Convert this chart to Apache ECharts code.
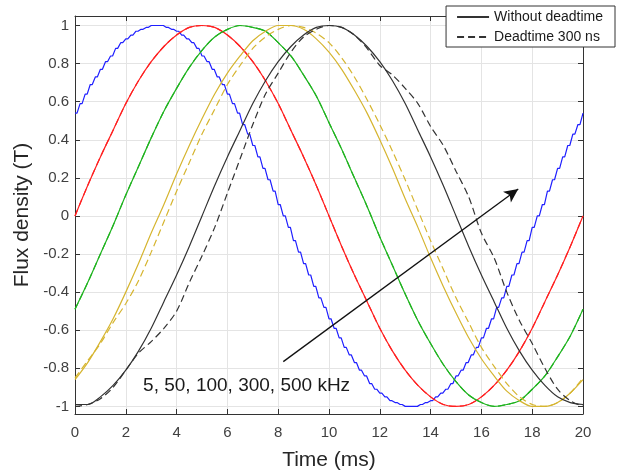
<!DOCTYPE html>
<html>
<head>
<meta charset="utf-8">
<script src="https://cdn.jsdelivr.net/npm/echarts@6/dist/echarts.min.js"></script>
<style>
html,body{margin:0;padding:0;background:#fff;}
#chart{width:621px;height:475px;}
</style>
</head>
<body>
<div id="chart"></div>
<script>
// ---- data ----
const time = [0,0.5,1,1.5,2,2.5,3,3.5,4,4.5,5,5.5,6,6.5,7,7.5,8,8.5,9,9.5,10,
  10.5,11,11.5,12,12.5,13,13.5,14,14.5,15,15.5,16,16.5,17,17.5,18,18.5,19,19.5,20];

// switching instants of the 5 kHz staircase (one level per 0.2 ms)
const timeFine = [0,0.2,0.4,0.6,0.8,1,1.2,1.4,1.6,1.8,2,2.2,2.4,2.6,2.8,3,3.2,3.4,3.6,3.8,
  4,4.2,4.4,4.6,4.8,5,5.2,5.4,5.6,5.8,6,6.2,6.4,6.6,6.8,7,7.2,7.4,7.6,7.8,
  8,8.2,8.4,8.6,8.8,9,9.2,9.4,9.6,9.8,10,10.2,10.4,10.6,10.8,11,11.2,11.4,11.6,11.8,
  12,12.2,12.4,12.6,12.8,13,13.2,13.4,13.6,13.8,14,14.2,14.4,14.6,14.8,15,15.2,15.4,15.6,15.8,
  16,16.2,16.4,16.6,16.8,17,17.2,17.4,17.6,17.8,18,18.2,18.4,18.6,18.8,19,19.2,19.4,19.6,19.8,20];

// 5 kHz (staircase ripple)
const blue5k = [0.54,0.59,0.64,0.69,0.73,0.77,0.81,0.84,0.88,0.91,0.93,0.95,0.97,0.98,0.99,1.00,1.00,1.00,0.99,0.98,
  0.97,0.95,0.93,0.91,0.88,0.84,0.81,0.77,0.73,0.69,0.64,0.59,0.54,0.48,0.43,0.37,0.31,0.25,0.19,0.13,
  0.06,0.00,-0.06,-0.13,-0.19,-0.25,-0.31,-0.37,-0.43,-0.48,-0.54,-0.59,-0.64,-0.69,-0.73,-0.77,-0.81,-0.84,-0.88,-0.91,
  -0.93,-0.95,-0.97,-0.98,-0.99,-1.00,-1.00,-1.00,-0.99,-0.98,-0.97,-0.95,-0.93,-0.91,-0.88,-0.84,-0.81,-0.77,-0.73,-0.69,
  -0.64,-0.59,-0.54,-0.48,-0.43,-0.37,-0.31,-0.25,-0.19,-0.13,-0.06,0.00,0.06,0.13,0.19,0.25,0.31,0.37,0.43,0.48,0.54];

// 50 kHz
const red50k = [0,0.16,0.31,0.45,0.59,0.71,0.81,0.89,0.95,0.99,1,0.99,0.95,0.89,0.81,0.71,0.59,0.45,0.31,0.16,0,
  -0.16,-0.31,-0.45,-0.59,-0.71,-0.81,-0.89,-0.95,-0.99,-1,-0.99,-0.95,-0.89,-0.81,-0.71,-0.59,-0.45,-0.31,-0.16,0];

// 100 kHz
const green100k = [-0.49,-0.35,-0.20,-0.05,0.11,0.26,0.41,0.55,0.67,0.78,0.87,0.94,0.98,1.00,0.99,0.97,0.91,0.84,0.74,0.63,0.49,
  0.35,0.20,0.05,-0.11,-0.26,-0.41,-0.55,-0.67,-0.78,-0.87,-0.94,-0.98,-1.00,-0.99,-0.97,-0.91,-0.84,-0.74,-0.63,-0.49];

// 300 kHz
const yellow300k = [-0.86,-0.77,-0.66,-0.54,-0.40,-0.25,-0.09,0.06,0.22,0.37,0.51,0.64,0.75,0.84,0.92,0.97,1.00,1.00,0.98,0.93,0.86,
  0.77,0.66,0.54,0.40,0.25,0.09,-0.06,-0.22,-0.37,-0.51,-0.64,-0.75,-0.84,-0.92,-0.97,-1.00,-1.00,-0.98,-0.93,-0.86];
const yellow300kDead = [-0.85,-0.76,-0.67,-0.56,-0.46,-0.34,-0.19,-0.03,0.13,0.28,0.43,0.56,0.69,0.79,0.88,0.94,0.98,1.00,0.99,0.96,0.91,
  0.83,0.73,0.61,0.48,0.34,0.19,0.03,-0.13,-0.28,-0.43,-0.56,-0.69,-0.79,-0.88,-0.95,-0.99,-1.00,-0.98,-0.93,-0.85];

// 500 kHz
const black500k = [-0.99,-0.99,-0.95,-0.89,-0.81,-0.71,-0.59,-0.45,-0.31,-0.16,0,0.16,0.31,0.45,0.59,0.71,0.81,0.89,0.95,0.99,1.00,
  0.99,0.95,0.89,0.81,0.71,0.59,0.45,0.31,0.16,0,-0.16,-0.31,-0.45,-0.59,-0.71,-0.81,-0.89,-0.95,-0.98,-0.99];
const black500kDead = [-1.00,-0.99,-0.96,-0.90,-0.81,-0.72,-0.66,-0.59,-0.50,-0.35,-0.21,-0.06,0.12,0.30,0.48,0.64,0.75,0.86,0.94,0.98,1.00,
  0.99,0.95,0.88,0.79,0.74,0.67,0.59,0.47,0.37,0.235,0.10,-0.09,-0.22,-0.40,-0.55,-0.67,-0.80,-0.91,-0.97,-1.00];

const legendNames = ['Without deadtime', 'Deadtime 300 ns'];
const annotationText = '5, 50, 100, 300, 500 kHz';
const annotationPos = [2.68, -0.893];
const arrowStart = [8.2, -0.765];
const arrowEnd = [17.45, 0.142];

const xMin = 0, xMax = 20, xStep = 2;
const yMin = -1.04, yMax = 1.05, yStep = 0.2;

// ---- build ----
const pairs = (xs, ys) => xs.map((x, i) => [x, ys[i]]);
// staircase drawing: hold each level for a short part of the switching period, then ramp to the next
function staircase(xs, ys, holdFrac) {
  const out = [];
  for (let i = 0; i < xs.length; i++) {
    out.push([xs[i], ys[i]]);
    if (i < xs.length - 1) out.push([xs[i] + (xs[i + 1] - xs[i]) * holdFrac, ys[i]]);
  }
  return out;
}
const FONT = '"Liberation Sans", Arial, Helvetica, sans-serif';
const AX = '#333333';
const GRIDC = '#e4e4e4';

function line(name, data, color, dashed, extra) {
  return Object.assign({
    name: name,
    type: 'line',
    data: data,
    symbol: 'none',
    smooth: 0.3,
    lineStyle: { color: color, width: 1.2, type: dashed ? [7, 4] : 'solid' },
    itemStyle: { color: color },
    silent: true,
    z: 3
  }, extra || {});
}

const chart = echarts.init(document.getElementById('chart'), null, { renderer: 'canvas' });

const yAxisBase = {
  type: 'value', min: yMin, max: yMax, minInterval: yStep, maxInterval: yStep,
  axisLine: { show: true, onZero: false, lineStyle: { color: AX, width: 1 } },
  axisTick: { show: true, inside: true, length: 5, lineStyle: { color: AX } },
};
const xAxisBase = {
  type: 'value', min: xMin, max: xMax, interval: xStep,
  axisLine: { show: true, onZero: false, lineStyle: { color: AX, width: 1 } },
  axisTick: { show: true, inside: true, length: 5, lineStyle: { color: AX } },
};

chart.setOption({
  animation: false,
  backgroundColor: '#ffffff',
  textStyle: { fontFamily: FONT },
  grid: { left: 75, right: 38, top: 16, bottom: 61, containLabel: false, outerBoundsMode: 'none' },
  legend: {
    data: legendNames,
    orient: 'vertical',
    right: 6, top: 6,
    backgroundColor: '#ffffff',
    borderColor: '#333333', borderWidth: 1, borderRadius: 0,
    padding: [3, 12, 2, 10],
    itemGap: 4,
    itemWidth: 32, itemHeight: 14,
    itemStyle: { opacity: 0 },
    textStyle: { fontSize: 14, color: '#1a1a1a', fontFamily: FONT, lineHeight: 16 },
    selectedMode: false,
    z: 10
  },
  xAxis: [
    Object.assign({}, xAxisBase, {
      position: 'bottom',
      name: 'Time (ms)', nameLocation: 'middle', nameGap: 36,
      nameTextStyle: { fontSize: 21, color: '#262626', fontFamily: FONT },
      axisLabel: { show: true, fontSize: 15, color: '#404040', margin: 11, fontFamily: FONT },
      splitLine: { show: true, lineStyle: { color: GRIDC, width: 1 } }
    }),
    Object.assign({}, xAxisBase, {
      position: 'top',
      axisLabel: { show: false },
      splitLine: { show: false }
    })
  ],
  yAxis: [
    Object.assign({}, yAxisBase, {
      position: 'left',
      name: 'Flux density (T)', nameLocation: 'middle', nameGap: 38,
      nameTextStyle: { fontSize: 21, color: '#262626', fontFamily: FONT },
      axisLabel: { show: true, fontSize: 15, color: '#404040', margin: 6, fontFamily: FONT,
        showMinLabel: false, showMaxLabel: false },
      splitLine: { show: true, lineStyle: { color: GRIDC, width: 1 } }
    }),
    Object.assign({}, yAxisBase, {
      position: 'right',
      axisLabel: { show: false },
      splitLine: { show: false }
    })
  ],
  series: [
    line('5 kHz', staircase(timeFine, blue5k, 0.4), '#1f1fff', false, { smooth: false, lineStyle: { color: '#1f1fff', width: 1.2 } }),
    line('50 kHz', pairs(time, red50k), '#ff2020', false),
    line('50 kHz dead', pairs(time, red50k), '#ff2020', true),
    line('100 kHz', pairs(time, green100k), '#1fb31f', false),
    line('100 kHz dead', pairs(time, green100k), '#1fb31f', true),
    line('300 kHz', pairs(time, yellow300k), '#d6b530', false),
    line('300 kHz dead', pairs(time, yellow300kDead), '#d6b530', true),
    line(legendNames[0], pairs(time, black500k), '#333333', false),
    line(legendNames[1], pairs(time, black500kDead), '#333333', true, {
      markLine: {
        silent: true,
        symbol: ['none', 'arrow'],
        symbolSize: [10, 14],
        label: { show: false },
        lineStyle: { color: '#111111', width: 1.3, type: 'solid' },
        data: [[{ coord: arrowStart }, { coord: arrowEnd }]]
      },
      markPoint: {
        silent: true,
        symbol: 'circle', symbolSize: 0,
        label: {
          show: true, position: 'inside', align: 'left', verticalAlign: 'middle',
          formatter: annotationText, fontSize: 19, color: '#1a1a1a', fontFamily: FONT
        },
        data: [{ coord: annotationPos }]
      }
    })
  ]
});
</script>
</body>
</html>
